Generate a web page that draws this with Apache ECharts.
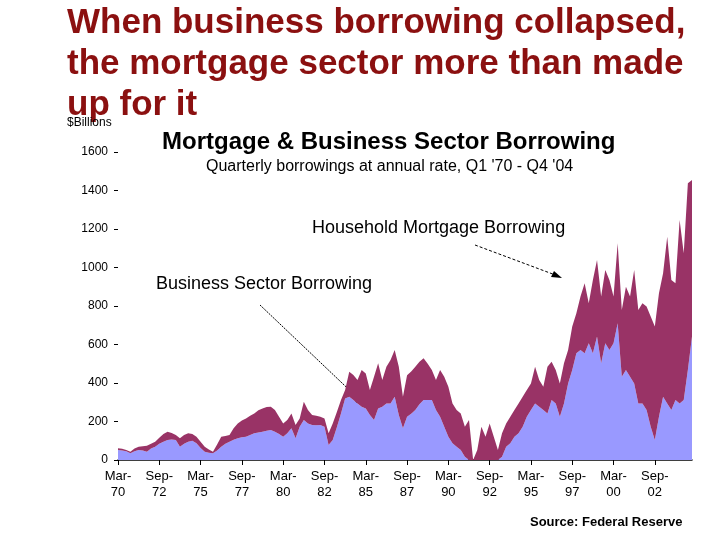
<!DOCTYPE html>
<html><head><meta charset="utf-8">
<script src="https://cdn.jsdelivr.net/npm/echarts@6/dist/echarts.min.js"></script>
<style>html,body{margin:0;padding:0;background:#fff}#c{width:720px;height:540px}</style>
</head><body><div id="c"></div>
<script>
const business = [52,50,45,35,45,52,50,43,60,69,85,95,104,106,104,69,85,95,100,87,62,43,38,35,50,69,85,95,105,113,118,121,130,139,143,147,152,156,147,135,121,139,165,113,173,208,190,182,180,182,173,78,104,170,242,320,329,312,294,277,268,234,208,268,277,294,294,329,234,165,225,240,260,290,312,312,312,260,225,173,121,87,69,52,17,0,0,0,0,0,0,0,0,17,69,87,121,139,173,225,260,294,277,260,242,312,294,225,294,398,468,554,572,554,606,554,641,502,606,572,606,710,433,468,433,398,294,294,260,173,104,225,329,294,260,312,294,312,468,641];
const mortgage = [9,8,7,8,15,17,22,31,25,26,30,40,43,34,26,44,45,44,35,34,33,26,17,8,30,52,40,35,60,77,87,95,100,103,115,121,123,121,113,90,69,69,77,69,43,95,70,52,50,43,43,61,86,80,70,44,130,130,122,191,182,130,225,234,139,191,226,243,251,164,215,220,225,220,216,188,156,156,243,260,260,207,191,190,156,208,0,52,173,121,190,121,52,122,121,138,139,155,156,139,138,191,139,121,243,199,174,173,208,174,225,208,277,364,208,381,398,347,381,363,243,416,346,432,416,589,485,520,537,572,589,641,641,866,675,606,953,762,970,814];
const yTicks = [0,200,400,600,800,1000,1200,1400,1600];
const monthNames = ['Mar','Jun','Sep','Dec'];
const categories = [];
for (let y = 1970; y <= 2004; y++) for (let q = 0; q < 4; q++) categories.push(monthNames[q] + '-\n' + String(y).slice(2));

const chart = echarts.init(document.getElementById('c'));
const F = 'Liberation Sans, Arial, sans-serif';
chart.setOption({
  animation:false,
  grid:{left:118,right:28,top:152,bottom:80},
  xAxis:{type:'category',data:categories,boundaryGap:false,
    axisLine:{lineStyle:{color:'#000',width:1.5}},
    axisTick:{interval:9,length:5,lineStyle:{color:'#000'}},
    axisLabel:{interval:9,color:'#000',fontSize:13,fontFamily:F,lineHeight:16,margin:8}},
  yAxis:{type:'value',min:0,max:1600,interval:200,
    axisLine:{show:false},splitLine:{show:false},
    axisTick:{show:true,length:4,lineStyle:{color:'#000'}},
    axisLabel:{color:'#000',fontSize:12,fontFamily:F,margin:10,formatter:v=>String(v)}},
  series:[
    {name:'Business Sector Borrowing',type:'line',stack:'t',data:business,symbol:'none',
     lineStyle:{width:0},areaStyle:{color:'#9999ff',opacity:1}},
    {name:'Household Mortgage Borrowing',type:'line',stack:'t',data:mortgage,symbol:'none',
     lineStyle:{width:0},areaStyle:{color:'#993366',opacity:1}}
  ],
  graphic:[
    {type:'text',left:67,top:3,style:{text:'When business borrowing collapsed,\nthe mortgage sector more than made\nup for it',font:'bold 35px '+F,fill:'#8b1010',lineHeight:41}},
    {type:'text',left:67,top:117,style:{text:'$Billions',font:'12px '+F,fill:'#000'}},
    {type:'text',left:162,top:130,style:{text:'Mortgage & Business Sector Borrowing',font:'bold 24px '+F,fill:'#000'}},
    {type:'text',left:206,top:159,style:{text:"Quarterly borrowings at annual rate, Q1 '70 - Q4 '04",font:'16px '+F,fill:'#000'}},
    {type:'text',left:312,top:219,style:{text:'Household Mortgage Borrowing',font:'18px '+F,fill:'#000'}},
    {type:'text',left:156,top:275,style:{text:'Business Sector Borrowing',font:'18px '+F,fill:'#000'}},
    {type:'line',shape:{x1:475,y1:245,x2:558,y2:276},style:{stroke:'#000',lineWidth:1,lineDash:[3,2]}},
    {type:'polygon',shape:{points:[[562,278],[551,277],[554,271]]},style:{fill:'#000'}},
    {type:'line',shape:{x1:260,y1:305,x2:362,y2:402},style:{stroke:'#000',lineWidth:1,lineDash:[2,1]}},
    {type:'polygon',shape:{points:[[366,407],[355,402],[361,396]]},style:{fill:'#000'}},
    {type:'text',left:530,top:516,style:{text:'Source: Federal Reserve',font:'bold 13px '+F,fill:'#000'}}
  ]
});
</script></body></html>
